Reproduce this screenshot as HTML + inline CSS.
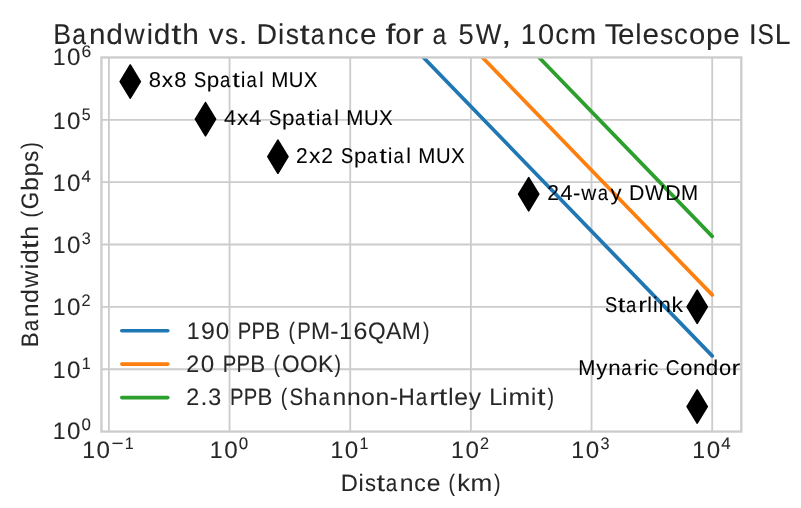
<!DOCTYPE html>
<html><head><meta charset="utf-8"><title>Bandwidth vs. Distance</title>
<style>html,body{margin:0;padding:0;background:#fff;overflow:hidden}svg{display:block}text{font-family:"Liberation Sans",sans-serif;text-rendering:geometricPrecision}</style>
</head><body>
<svg width="801" height="508" viewBox="0 0 801 508">
<rect width="801" height="508" fill="#fff"/>
<path d="M108.9 57.45V431.55M229.56 57.45V431.55M350.22 57.45V431.55M470.88 57.45V431.55M591.54 57.45V431.55M712.2 57.45V431.55M101.45 369.2H741.3M101.45 306.85H741.3M101.45 244.5H741.3M101.45 182.15H741.3M101.45 119.8H741.3" stroke="#cccccc" stroke-width="1.85" fill="none"/>
<defs><clipPath id="ax"><rect x="101.45" y="57.45" width="639.85" height="374.1"/></clipPath></defs>
<g clip-path="url(#ax)"><path d="M413.74 47.45L712.2 355.9" stroke="#1f77b4" stroke-width="3.7" stroke-linecap="round" fill="none"/><path d="M472.77 47.45L712.2 294.9" stroke="#ff7f0e" stroke-width="3.7" stroke-linecap="round" fill="none"/><path d="M529.42 47.45L712.2 236.35" stroke="#2ca02c" stroke-width="3.7" stroke-linecap="round" fill="none"/></g>
<rect x="101.45" y="57.45" width="639.85" height="374.1" fill="none" stroke="#cccccc" stroke-width="2.3"/>
<path d="M130.25 65L140.35 81.6L130.25 98.2L120.15 81.6ZM205.5 102.55L215.6 119.15L205.5 135.75L195.4 119.15ZM277.9 140.05L288 156.65L277.9 173.25L267.8 156.65ZM528.7 177.6L538.8 194.2L528.7 210.8L518.6 194.2ZM697.2 290.2L707.3 306.8L697.2 323.4L687.1 306.8ZM697.2 390L707.3 406.6L697.2 423.2L687.1 406.6Z" fill="#000" stroke="#000" stroke-width="1.6" stroke-linejoin="round"/>
<g opacity="0.999" stroke-width="0.08">
<g font-size="29.17" fill="#262626" stroke="#262626"><text transform="translate(53.26 43.5) scale(0.917 0.980)">B</text><text transform="translate(72.24 43.5) scale(0.849 0.980)">a</text><text transform="translate(89.03 43.5) scale(1.018 0.980)">n</text><text transform="translate(106.22 43.5) scale(1.026 0.980)">d</text><text transform="translate(124.62 43.5) scale(0.954 0.980)">w</text><text transform="translate(146.66 43.5) scale(0.965 0.980)">i</text><text transform="translate(153.86 43.5) scale(1.026 0.980)">d</text><text transform="translate(171.25 43.5) scale(1.261 0.980)">t</text><text transform="translate(182.29 43.5) scale(1.025 0.980)">h </text><text transform="translate(208.78 43.5) scale(1.018 0.980)">v</text><text transform="translate(225.11 43.5) scale(0.905 0.980)">s</text><text transform="translate(238.92 43.5) scale(1.021 0.980)">. </text><text transform="translate(256.56 43.5) scale(0.976 0.980)">D</text><text transform="translate(278.11 43.5) scale(0.965 0.980)">i</text><text transform="translate(285.8 43.5) scale(0.905 0.980)">s</text><text transform="translate(299.57 43.5) scale(1.261 0.980)">t</text><text transform="translate(310.78 43.5) scale(0.849 0.980)">a</text><text transform="translate(327.58 43.5) scale(1.018 0.980)">n</text><text transform="translate(344.85 43.5) scale(0.947 0.980)">c</text><text transform="translate(359.89 43.5) scale(1.019 0.980)">e </text><text transform="translate(385.45 43.5) scale(1.239 0.980)">f</text><text transform="translate(395.31 43.5) scale(1.003 0.980)">o</text><text transform="translate(412.02 43.5) scale(1.209 0.980)">r </text><text transform="translate(432.53 43.5) scale(0.849 0.980)">a </text><text transform="translate(458.58 43.5) scale(0.939 0.980)">5</text><text transform="translate(475.86 43.5) scale(0.930 0.980)">W</text><text transform="translate(501.11 43.5) scale(1.300 0.980)">, </text><text transform="translate(520.7 43.5) scale(0.950 0.980)">1</text><text transform="translate(537.99 43.5) scale(0.995 0.980)">0</text><text transform="translate(555.17 43.5) scale(0.947 0.980)">c</text><text transform="translate(570.37 43.5) scale(1.075 0.980)">m </text><text transform="translate(604.77 43.5) scale(1.029 0.980)">T</text><text transform="translate(617.92 43.5) scale(1.019 0.980)">e</text><text transform="translate(635.3 43.5) scale(0.965 0.980)">l</text><text transform="translate(642.51 43.5) scale(1.019 0.980)">e</text><text transform="translate(659.95 43.5) scale(0.905 0.980)">s</text><text transform="translate(673.88 43.5) scale(0.947 0.980)">c</text><text transform="translate(688.96 43.5) scale(1.003 0.980)">o</text><text transform="translate(706.08 43.5) scale(1.027 0.980)">p</text><text transform="translate(723.24 43.5) scale(1.019 0.980)">e </text><text transform="translate(748.69 43.5) scale(0.998 0.980)">I</text><text transform="translate(757.49 43.5) scale(0.841 0.980)">S</text><text transform="translate(774.65 43.5) scale(0.971 0.980)">L</text></g>
<g font-size="24.29" fill="#262626" stroke="#262626"><text transform="translate(340.65 491) scale(0.976 0.980)">D</text><text transform="translate(358.59 491) scale(0.965 0.980)">i</text><text transform="translate(365 491) scale(0.905 0.980)">s</text><text transform="translate(376.46 491) scale(1.261 0.980)">t</text><text transform="translate(385.8 491) scale(0.849 0.980)">a</text><text transform="translate(399.78 491) scale(1.018 0.980)">n</text><text transform="translate(414.15 491) scale(0.947 0.980)">c</text><text transform="translate(426.68 491) scale(1.019 0.980)">e </text><text transform="translate(448.61 491) scale(0.800 0.980)">(</text><text transform="translate(457.15 491) scale(1.055 0.980)">k</text><text transform="translate(470.42 491) scale(1.075 0.980)">m</text><text transform="translate(494.11 491) scale(0.800 0.980)">)</text></g>
<g font-size="24.29" fill="#262626" stroke="#262626" transform="rotate(-90)"><text transform="translate(-347.13 38.3) scale(0.917 0.980)">B</text><text transform="translate(-331.32 38.3) scale(0.849 0.980)">a</text><text transform="translate(-317.34 38.3) scale(1.018 0.980)">n</text><text transform="translate(-303.04 38.3) scale(1.026 0.980)">d</text><text transform="translate(-287.71 38.3) scale(0.954 0.980)">w</text><text transform="translate(-269.37 38.3) scale(0.965 0.980)">i</text><text transform="translate(-263.37 38.3) scale(1.026 0.980)">d</text><text transform="translate(-248.89 38.3) scale(1.261 0.980)">t</text><text transform="translate(-239.7 38.3) scale(1.025 0.980)">h </text><text transform="translate(-217.49 38.3) scale(0.800 0.980)">(</text><text transform="translate(-209.14 38.3) scale(0.920 0.980)">G</text><text transform="translate(-191.07 38.3) scale(1.027 0.980)">b</text><text transform="translate(-176.52 38.3) scale(1.027 0.980)">p</text><text transform="translate(-161.81 38.3) scale(0.905 0.980)">s</text><text transform="translate(-148.79 38.3) scale(0.800 0.980)">)</text></g>
<path d="M121.8 330.7H167.8" stroke="#1f77b4" stroke-width="3.6" stroke-linecap="round"/>
<g font-size="24.29" fill="#262626" stroke="#262626"><text transform="translate(186.84 338.8) scale(0.950 0.980)">1</text><text transform="translate(200.94 338.8) scale(1.028 0.980)">9</text><text transform="translate(215.81 338.8) scale(0.995 0.980)">0 </text><text transform="translate(237.7 338.8) scale(0.835 0.980)">P</text><text transform="translate(251.52 338.8) scale(0.835 0.980)">P</text><text transform="translate(265.18 338.8) scale(0.917 0.980)">B </text><text transform="translate(288.52 338.8) scale(0.800 0.980)">(</text><text transform="translate(297.3 338.8) scale(0.835 0.980)">P</text><text transform="translate(310.91 338.8) scale(0.941 0.980)">M</text><text transform="translate(330.33 338.8) scale(1.017 0.980)">-</text><text transform="translate(339.34 338.8) scale(0.950 0.980)">1</text><text transform="translate(353.49 338.8) scale(1.030 0.980)">6</text><text transform="translate(367.95 338.8) scale(0.933 0.980)">Q</text><text transform="translate(385.92 338.8) scale(0.951 0.980)">A</text><text transform="translate(401.84 338.8) scale(0.941 0.980)">M</text><text transform="translate(422.95 338.8) scale(0.800 0.980)">)</text></g>
<path d="M121.8 364.1H167.8" stroke="#ff7f0e" stroke-width="3.6" stroke-linecap="round"/>
<g font-size="24.29" fill="#262626" stroke="#262626"><text transform="translate(186.13 372.1) scale(0.959 0.980)">2</text><text transform="translate(200.77 372.1) scale(0.995 0.980)">0 </text><text transform="translate(222.66 372.1) scale(0.835 0.980)">P</text><text transform="translate(236.48 372.1) scale(0.835 0.980)">P</text><text transform="translate(250.14 372.1) scale(0.917 0.980)">B </text><text transform="translate(273.48 372.1) scale(0.800 0.980)">(</text><text transform="translate(281.88 372.1) scale(0.933 0.980)">O</text><text transform="translate(299.92 372.1) scale(0.933 0.980)">O</text><text transform="translate(318.1 372.1) scale(0.952 0.980)">K</text><text transform="translate(334.49 372.1) scale(0.800 0.980)">)</text></g>
<path d="M121.8 397.6H167.8" stroke="#2ca02c" stroke-width="3.6" stroke-linecap="round"/>
<g font-size="24.29" fill="#262626" stroke="#262626"><text transform="translate(186.13 405.4) scale(0.959 0.980)">2</text><text transform="translate(200.39 405.4) scale(1.021 0.980)">.</text><text transform="translate(208.35 405.4) scale(0.955 0.980)">3 </text><text transform="translate(229.94 405.4) scale(0.835 0.980)">P</text><text transform="translate(243.77 405.4) scale(0.835 0.980)">P</text><text transform="translate(257.42 405.4) scale(0.917 0.980)">B </text><text transform="translate(280.77 405.4) scale(0.800 0.980)">(</text><text transform="translate(289.53 405.4) scale(0.841 0.980)">S</text><text transform="translate(303.86 405.4) scale(1.025 0.980)">h</text><text transform="translate(318.53 405.4) scale(0.849 0.980)">a</text><text transform="translate(332.51 405.4) scale(1.018 0.980)">n</text><text transform="translate(347.04 405.4) scale(1.018 0.980)">n</text><text transform="translate(361.37 405.4) scale(1.003 0.980)">o</text><text transform="translate(375.59 405.4) scale(1.018 0.980)">n</text><text transform="translate(389.7 405.4) scale(1.017 0.980)">-</text><text transform="translate(398.32 405.4) scale(0.939 0.980)">H</text><text transform="translate(415.68 405.4) scale(0.849 0.980)">a</text><text transform="translate(429.36 405.4) scale(1.209 0.980)">r</text><text transform="translate(438.8 405.4) scale(1.261 0.980)">t</text><text transform="translate(448.22 405.4) scale(0.965 0.980)">l</text><text transform="translate(454.22 405.4) scale(1.019 0.980)">e</text><text transform="translate(468.73 405.4) scale(1.013 0.980)">y </text><text transform="translate(489.27 405.4) scale(0.971 0.980)">L</text><text transform="translate(502.32 405.4) scale(0.965 0.980)">i</text><text transform="translate(508.44 405.4) scale(1.075 0.980)">m</text><text transform="translate(531.01 405.4) scale(0.965 0.980)">i</text><text transform="translate(536.94 405.4) scale(1.261 0.980)">t</text><text transform="translate(547.49 405.4) scale(0.800 0.980)">)</text></g>
<g font-size="21.83" fill="#000" stroke="#000"><text transform="translate(148.85 87) scale(1.006 0.980)">8</text><text transform="translate(161.85 87) scale(1.047 0.980)">x</text><text transform="translate(174.14 87) scale(1.006 0.980)">8 </text><text transform="translate(193.88 87) scale(0.841 0.980)">S</text><text transform="translate(206.86 87) scale(1.027 0.980)">p</text><text transform="translate(219.96 87) scale(0.849 0.980)">a</text><text transform="translate(232.27 87) scale(1.261 0.980)">t</text><text transform="translate(240.74 87) scale(0.965 0.980)">i</text><text transform="translate(246.38 87) scale(0.849 0.980)">a</text><text transform="translate(259.08 87) scale(0.965 0.980)">l </text><text transform="translate(271.16 87) scale(0.941 0.980)">M</text><text transform="translate(288.83 87) scale(0.928 0.980)">U</text><text transform="translate(303.83 87) scale(0.944 0.980)">X</text></g>
<g font-size="21.83" fill="#000" stroke="#000"><text transform="translate(224 124.7) scale(0.995 0.980)">4</text><text transform="translate(236.94 124.7) scale(1.047 0.980)">x</text><text transform="translate(249.3 124.7) scale(0.995 0.980)">4 </text><text transform="translate(268.97 124.7) scale(0.841 0.980)">S</text><text transform="translate(281.95 124.7) scale(1.027 0.980)">p</text><text transform="translate(295.05 124.7) scale(0.849 0.980)">a</text><text transform="translate(307.36 124.7) scale(1.261 0.980)">t</text><text transform="translate(315.83 124.7) scale(0.965 0.980)">i</text><text transform="translate(321.47 124.7) scale(0.849 0.980)">a</text><text transform="translate(334.17 124.7) scale(0.965 0.980)">l </text><text transform="translate(346.25 124.7) scale(0.941 0.980)">M</text><text transform="translate(363.92 124.7) scale(0.928 0.980)">U</text><text transform="translate(378.92 124.7) scale(0.944 0.980)">X</text></g>
<g font-size="21.83" fill="#000" stroke="#000"><text transform="translate(295.95 162.6) scale(0.959 0.980)">2</text><text transform="translate(308.93 162.6) scale(1.047 0.980)">x</text><text transform="translate(321.24 162.6) scale(0.959 0.980)">2 </text><text transform="translate(340.97 162.6) scale(0.841 0.980)">S</text><text transform="translate(353.95 162.6) scale(1.027 0.980)">p</text><text transform="translate(367.05 162.6) scale(0.849 0.980)">a</text><text transform="translate(379.36 162.6) scale(1.261 0.980)">t</text><text transform="translate(387.83 162.6) scale(0.965 0.980)">i</text><text transform="translate(393.47 162.6) scale(0.849 0.980)">a</text><text transform="translate(406.17 162.6) scale(0.965 0.980)">l </text><text transform="translate(418.25 162.6) scale(0.941 0.980)">M</text><text transform="translate(435.92 162.6) scale(0.928 0.980)">U</text><text transform="translate(450.92 162.6) scale(0.944 0.980)">X</text></g>
<g font-size="21.83" fill="#000" stroke="#000"><text transform="translate(547.25 199.7) scale(0.959 0.980)">2</text><text transform="translate(560.41 199.7) scale(0.995 0.980)">4</text><text transform="translate(573.02 199.7) scale(1.017 0.980)">-</text><text transform="translate(581.33 199.7) scale(0.954 0.980)">w</text><text transform="translate(597.74 199.7) scale(0.849 0.980)">a</text><text transform="translate(610.47 199.7) scale(1.013 0.980)">y </text><text transform="translate(628.92 199.7) scale(0.976 0.980)">D</text><text transform="translate(645.11 199.7) scale(0.930 0.980)">W</text><text transform="translate(665.15 199.7) scale(0.976 0.980)">D</text><text transform="translate(681.08 199.7) scale(0.941 0.980)">M</text></g>
<g font-size="21.83" fill="#000" stroke="#000"><text transform="translate(604.97 312.1) scale(0.841 0.980)">S</text><text transform="translate(617.65 312.1) scale(1.261 0.980)">t</text><text transform="translate(626.05 312.1) scale(0.849 0.980)">a</text><text transform="translate(638.34 312.1) scale(1.209 0.980)">r</text><text transform="translate(647.21 312.1) scale(0.965 0.980)">l</text><text transform="translate(652.94 312.1) scale(0.965 0.980)">i</text><text transform="translate(658.53 312.1) scale(1.018 0.980)">n</text><text transform="translate(671.51 312.1) scale(1.055 0.980)">k</text></g>
<g font-size="21.83" fill="#000" stroke="#000"><text transform="translate(578.22 374.6) scale(0.941 0.980)">M</text><text transform="translate(596.21 374.6) scale(1.013 0.980)">y</text><text transform="translate(608.24 374.6) scale(1.018 0.980)">n</text><text transform="translate(621.35 374.6) scale(0.849 0.980)">a</text><text transform="translate(633.64 374.6) scale(1.209 0.980)">r</text><text transform="translate(642.52 374.6) scale(0.965 0.980)">i</text><text transform="translate(647.97 374.6) scale(0.947 0.980)">c </text><text transform="translate(665.77 374.6) scale(0.876 0.980)">C</text><text transform="translate(680.19 374.6) scale(1.003 0.980)">o</text><text transform="translate(692.97 374.6) scale(1.018 0.980)">n</text><text transform="translate(705.83 374.6) scale(1.026 0.980)">d</text><text transform="translate(718.93 374.6) scale(1.003 0.980)">o</text><text transform="translate(731.43 374.6) scale(1.209 0.980)">r</text></g>
<g font-size="24.29" fill="#262626" stroke="#262626"><text transform="translate(52.64 439) scale(0.950 0.980)">1</text><text transform="translate(67 439) scale(0.995 0.980)">0</text></g>
<g font-size="17" fill="#262626" stroke="#262626"><text transform="translate(81.61 430.2) scale(0.995 0.980)">0</text></g>
<g font-size="24.29" fill="#262626" stroke="#262626"><text transform="translate(52.64 377.8) scale(0.950 0.980)">1</text><text transform="translate(67 377.8) scale(0.995 0.980)">0</text></g>
<g font-size="17" fill="#262626" stroke="#262626"><text transform="translate(81.74 369) scale(0.950 0.980)">1</text></g>
<g font-size="24.29" fill="#262626" stroke="#262626"><text transform="translate(52.64 314.6) scale(0.950 0.980)">1</text><text transform="translate(67 314.6) scale(0.995 0.980)">0</text></g>
<g font-size="17" fill="#262626" stroke="#262626"><text transform="translate(81.56 305.8) scale(0.959 0.980)">2</text></g>
<g font-size="24.29" fill="#262626" stroke="#262626"><text transform="translate(52.64 252.6) scale(0.950 0.980)">1</text><text transform="translate(67 252.6) scale(0.995 0.980)">0</text></g>
<g font-size="17" fill="#262626" stroke="#262626"><text transform="translate(81.81 243.8) scale(0.955 0.980)">3</text></g>
<g font-size="24.29" fill="#262626" stroke="#262626"><text transform="translate(52.64 190.9) scale(0.950 0.980)">1</text><text transform="translate(67 190.9) scale(0.995 0.980)">0</text></g>
<g font-size="17" fill="#262626" stroke="#262626"><text transform="translate(81.6 182.1) scale(0.995 0.980)">4</text></g>
<g font-size="24.29" fill="#262626" stroke="#262626"><text transform="translate(52.64 128.6) scale(0.950 0.980)">1</text><text transform="translate(67 128.6) scale(0.995 0.980)">0</text></g>
<g font-size="17" fill="#262626" stroke="#262626"><text transform="translate(81.81 119.8) scale(0.939 0.980)">5</text></g>
<g font-size="24.29" fill="#262626" stroke="#262626"><text transform="translate(52.64 65.4) scale(0.950 0.980)">1</text><text transform="translate(67 65.4) scale(0.995 0.980)">0</text></g>
<g font-size="17" fill="#262626" stroke="#262626"><text transform="translate(81.44 56.6) scale(1.030 0.980)">6</text></g>
<g font-size="24.29" fill="#262626" stroke="#262626"><text transform="translate(82.24 457.6) scale(0.950 0.980)">1</text><text transform="translate(96.6 457.6) scale(0.995 0.980)">0</text></g>
<g font-size="17" fill="#262626" stroke="#262626"><text transform="translate(111.49 448.8) scale(1.216 0.980)">−</text><text transform="translate(124.76 448.8) scale(0.950 0.980)">1</text></g>
<g font-size="24.29" fill="#262626" stroke="#262626"><text transform="translate(209.79 457.6) scale(0.950 0.980)">1</text><text transform="translate(224.15 457.6) scale(0.995 0.980)">0</text></g>
<g font-size="17" fill="#262626" stroke="#262626"><text transform="translate(238.76 448.8) scale(0.995 0.980)">0</text></g>
<g font-size="24.29" fill="#262626" stroke="#262626"><text transform="translate(330.44 457.6) scale(0.950 0.980)">1</text><text transform="translate(344.8 457.6) scale(0.995 0.980)">0</text></g>
<g font-size="17" fill="#262626" stroke="#262626"><text transform="translate(359.54 448.8) scale(0.950 0.980)">1</text></g>
<g font-size="24.29" fill="#262626" stroke="#262626"><text transform="translate(451.04 457.6) scale(0.950 0.980)">1</text><text transform="translate(465.4 457.6) scale(0.995 0.980)">0</text></g>
<g font-size="17" fill="#262626" stroke="#262626"><text transform="translate(479.96 448.8) scale(0.959 0.980)">2</text></g>
<g font-size="24.29" fill="#262626" stroke="#262626"><text transform="translate(571.34 457.6) scale(0.950 0.980)">1</text><text transform="translate(585.7 457.6) scale(0.995 0.980)">0</text></g>
<g font-size="17" fill="#262626" stroke="#262626"><text transform="translate(600.51 448.8) scale(0.955 0.980)">3</text></g>
<g font-size="24.29" fill="#262626" stroke="#262626"><text transform="translate(692.3 457.6) scale(0.950 0.980)">1</text><text transform="translate(706.66 457.6) scale(0.995 0.980)">0</text></g>
<g font-size="17" fill="#262626" stroke="#262626"><text transform="translate(721.26 448.8) scale(0.995 0.980)">4</text></g>
</g>
</svg>
</body></html>
